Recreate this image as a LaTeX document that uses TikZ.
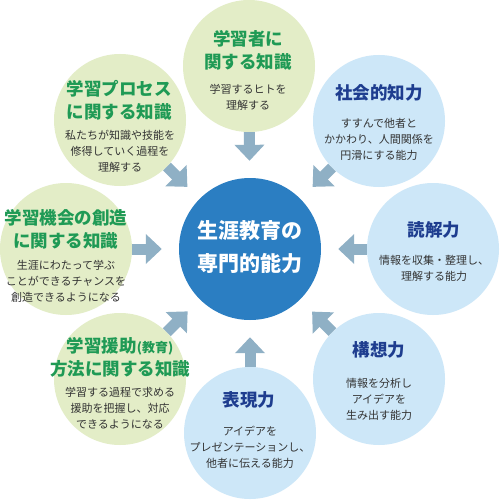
\documentclass[tikz,border=0pt]{standalone}
\usepackage{fontspec}
\setmainfont{Noto Sans CJK JP}
\usetikzlibrary{arrows.meta}
\definecolor{greenfill}{HTML}{E3EDC7}
\definecolor{bluefill}{HTML}{CDE7F8}
\definecolor{centerblue}{HTML}{2B7EC2}
\definecolor{greentitle}{HTML}{1F9A55}
\definecolor{bluetitle}{HTML}{1E3D8F}
\definecolor{bodytext}{HTML}{333333}
\definecolor{arrowcol}{HTML}{8FB0C5}
\tikzset{
  gcirc/.style={circle, minimum size=132pt, inner sep=0pt, fill=greenfill},
  bcirc/.style={circle, minimum size=132pt, inner sep=0pt, fill=bluefill},
  ttl/.style={align=center, inner sep=0pt, font=\fontsize{17.5}{23}\selectfont\bfseries},
  gttl/.style={ttl, text=greentitle},
  bttl/.style={ttl, text=bluetitle},
  bodytx/.style={align=center, inner sep=0pt, text=bodytext, font=\fontsize{11}{16}\selectfont},
  bigarrow/.style={draw=arrowcol, line width=11pt, shorten >=17pt,
    -{Triangle[length=16pt,width=29pt,fill=arrowcol]}},
}
\begin{document}
\begin{tikzpicture}[x=1pt,y=-1pt]
\useasboundingbox (0,0) rectangle (500,500);
\fill[white] (0,0) rectangle (500,500);
% centre
\node[circle, minimum size=142pt, inner sep=0pt, fill=centerblue] (ctr) at (250,249) {};
\node[align=center, inner sep=0pt, text=white, font=\fontsize{21}{33}\selectfont\bfseries] (ctrtxt) at (250,247) {生涯教育の\\専門的能力};
% outer circles
\node[gcirc] (n1) at (249,66) {};
\node[bcirc] (n2) at (379,121) {};
\node[bcirc] (n3) at (433,249) {};
\node[bcirc] (n4) at (379,379) {};
\node[bcirc] (n5) at (250,433) {};
\node[gcirc] (n6) at (120,379) {};
\node[gcirc] (n7) at (66,249) {};
\node[gcirc] (n8) at (120,120) {};
% arrows
\foreach \n in {n1,n2,n3,n4,n5,n6,n7,n8}{
  \draw[bigarrow] (\n) -- (ctr);
}
% texts
\node[gttl] (t1) at (248,50) {学習者に\\関する知識};
\node[bodytx] (b1) at (248,97.5) {学習するヒトを\\理解する};
\node[bttl] (t2) at (379,93) {社会的知力};
\node[bodytx] (b2) at (379,139) {すすんで他者と\\かかわり、人間関係を\\円滑にする能力};
\node[bttl] (t3) at (434,230) {読解力};
\node[bodytx] (b3) at (434,268.5) {情報を収集・整理し、\\理解する能力};
\node[bttl] (t4) at (379,350) {構想力};
\node[bodytx] (b4) at (379,399) {情報を分析し\\アイデアを\\生み出す能力};
\node[bttl] (t5) at (249,400) {表現力};
\node[bodytx] (b5) at (250,447) {アイデアを\\プレゼンテーションし、\\他者に伝える能力};
\node[gttl] (t6) at (120,357.5) {学習援助{\fontsize{13}{13}\selectfont (教育)}\\方法に関する知識};
\node[bodytx] (b6) at (120,408) {学習する過程で求める\\援助を把握し、対応\\できるようになる};
\node[gttl] (t7) at (66,229) {学習機会の創造\\に関する知識};
\node[bodytx] (b7) at (66,281) {生涯にわたって学ぶ\\ことができるチャンスを\\創造できるようになる};
\node[gttl] (t8) at (119,100) {学習プロセス\\に関する知識};
\node[bodytx] (b8) at (120,151.5) {私たちが知識や技能を\\修得していく過程を\\理解する};
\end{tikzpicture}
\end{document}
